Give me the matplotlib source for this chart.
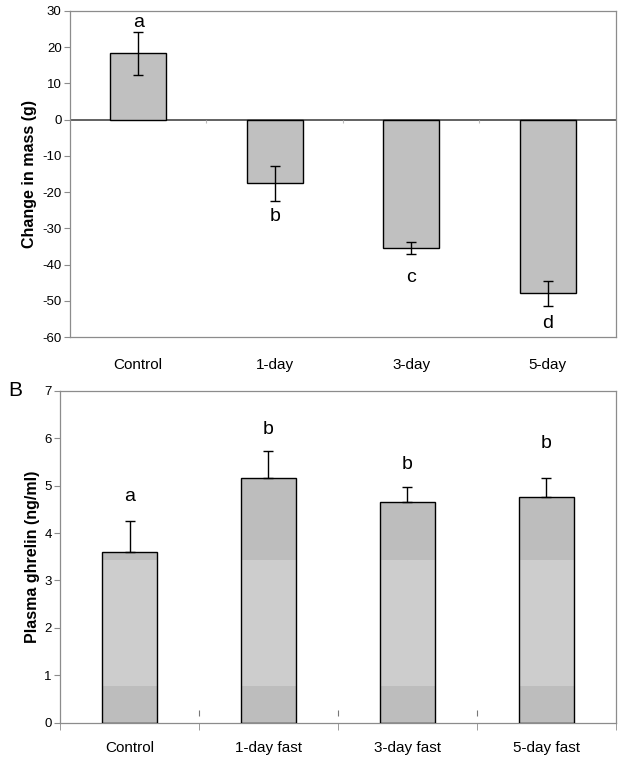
import numpy as np
import matplotlib
matplotlib.use("Agg")
import matplotlib.pyplot as plt
from matplotlib.ticker import FixedLocator

plt.rcParams['font.family'] = ['Liberation Sans', 'DejaVu Sans']
plt.rcParams['axes.unicode_minus'] = False

# panel A : change in body mass
mass_groups = ['Control', '1-day', '3-day', '5-day']
mass_change = [18.3, -17.6, -35.4, -47.9]
mass_err = [6.0, 4.9, 1.6, 3.5]
mass_letters = ['a', 'b', 'c', 'd']
mass_letter_y = [26.8, -26.6, -43.7, -56.4]

# panel B : plasma ghrelin
ghrelin_groups = ['Control', '1-day fast', '3-day fast', '5-day fast']
ghrelin = [3.60, 5.15, 4.65, 4.75]
ghrelin_err = [0.65, 0.58, 0.33, 0.42]
ghrelin_letters = ['a', 'b', 'b', 'b']
ghrelin_letter_y = [4.77, 6.19, 5.45, 5.88]
# bands of the shaded fill (old excel gradient look)
band_edges = [0, 0.77, 3.43, 99]
band_colors = ['#bdbdbd', '#cdcdcd', '#bdbdbd']

frame_col = '#8c8c8c'

fig = plt.figure(figsize=(6.24, 7.63), dpi=100)

# ---------------- panel A ----------------
ax1 = fig.add_axes([0.1122, 0.5583, 0.8748, 0.4273])
x = np.arange(len(mass_groups))
ax1.bar(x, mass_change, width=0.41, color='#c0c0c0', edgecolor='black', linewidth=1.0, zorder=2)
ax1.errorbar(x, mass_change, yerr=mass_err, fmt='none', ecolor='black', elinewidth=1.0, capsize=3.5, capthick=1.0, zorder=3)
for xi, lab, ly in zip(x, mass_letters, mass_letter_y):
    ax1.text(xi, ly, lab, ha='center', va='center', fontsize=14)
ax1.axhline(0, color='#555555', linewidth=1.3, zorder=1)
# little ticks on the zero line between categories
ax1.vlines(x[:-1] + 0.5, -1.0, 0, color='#bbbbbb', linewidth=0.8, zorder=1)
ax1.set_xlim(-0.5, len(mass_groups) - 0.5)
ax1.set_ylim(-60, 30)
ax1.set_yticks(np.arange(-60, 31, 10))
ax1.set_xticks(x)
ax1.set_xticklabels(mass_groups, fontsize=11)
ax1.tick_params(axis='x', length=0, pad=15)
ax1.tick_params(axis='y', labelsize=9.5, length=4, color=frame_col, pad=2)
for s in ax1.spines.values():
    s.set_color(frame_col)
    s.set_linewidth(0.9)
ax1.set_ylabel('Change in mass (g)', fontsize=11.5, fontweight='bold', labelpad=4)

# ---------------- panel B ----------------
ax2 = fig.add_axes([0.0962, 0.0528, 0.8908, 0.4351])
x2 = np.arange(len(ghrelin_groups))
w = 0.40
for lo, hi, c in zip(band_edges[:-1], band_edges[1:], band_colors):
    tops = np.clip(ghrelin, lo, hi)
    heights = tops - lo
    ax2.bar(x2, heights, bottom=lo, width=w, color=c, linewidth=0, zorder=2)
ax2.bar(x2, ghrelin, width=w, fill=False, edgecolor='black', linewidth=1.0, zorder=3)
ax2.errorbar(x2, ghrelin, yerr=[np.zeros(len(ghrelin)), ghrelin_err], fmt='none', ecolor='black',
             elinewidth=1.0, capsize=3.5, capthick=1.0, zorder=3)
for xi, lab, ly in zip(x2, ghrelin_letters, ghrelin_letter_y):
    ax2.text(xi, ly, lab, ha='center', va='center', fontsize=14)
# the stray marks above the axis between groups
ax2.vlines(x2[:-1] + 0.5, 0.14, 0.27, color='#777777', linewidth=0.8)
ax2.set_xlim(-0.5, len(ghrelin_groups) - 0.5)
ax2.set_ylim(0, 7)
ax2.set_yticks(np.arange(0, 8, 1))
ax2.set_xticks(x2)
ax2.set_xticklabels(ghrelin_groups, fontsize=11)
ax2.xaxis.set_minor_locator(FixedLocator(np.arange(len(ghrelin_groups) + 1) - 0.5))
ax2.tick_params(axis='x', which='major', length=0, pad=13)
ax2.tick_params(axis='x', which='minor', length=5, color=frame_col)
ax2.tick_params(axis='y', labelsize=9.5, length=4, color=frame_col, pad=2)
for s in ax2.spines.values():
    s.set_color(frame_col)
    s.set_linewidth(0.9)
ax2.set_ylabel('Plasma ghrelin (ng/ml)', fontsize=11.5, fontweight='bold', labelpad=3)

fig.text(0.013, 0.488, 'B', fontsize=15, ha='left', va='center')

fig.savefig('out.png', dpi=100)
